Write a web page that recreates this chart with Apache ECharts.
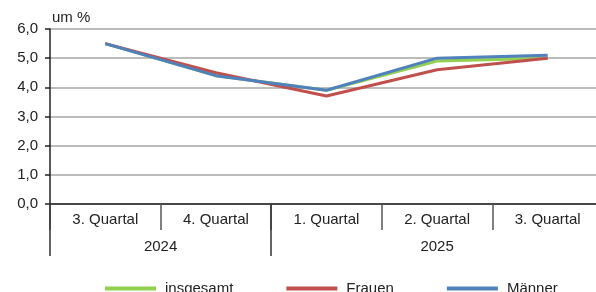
<!DOCTYPE html>
<html>
<head>
<meta charset="utf-8">
<script src="https://cdn.jsdelivr.net/npm/echarts@6/dist/echarts.min.js"></script>
<style>
  html, body { margin: 0; padding: 0; background: #fff; }
  #chart { width: 596px; height: 292px; }
</style>
</head>
<body>
<div id="chart"></div>
<script>
// Quartale und Jahre
const quarters = ['3. Quartal', '4. Quartal', '1. Quartal', '2. Quartal', '3. Quartal']
const years = ['2024', '2025']
const yearSpans = [2, 3]

// Werte in %
const insgesamt = [5.5, 4.4, 3.9, 4.9, 5.0]
const frauen = [5.5, 4.5, 3.7, 4.6, 5.0]
const maenner = [5.5, 4.4, 3.9, 5.0, 5.1]

const seriesNames = ['insgesamt', 'Frauen', 'Männer']
const seriesColors = ['#92d050', '#c0504d', '#4f81bd']

const textColor = '#222'
const font = 'Liberation Sans'
const fontSize = 15

// Grenzen und Mitten der Jahresgruppen
const yearBounds = [0]
yearSpans.forEach(s => yearBounds.push(yearBounds[yearBounds.length - 1] + s))
const yearMids = years.map((y, i) => (yearBounds[i] + yearBounds[i + 1]) / 2)

const chart = echarts.init(document.getElementById('chart'), null, { renderer: 'canvas' })

const lineSeries = (name, data, color) => ({
  name: name,
  type: 'line',
  xAxisIndex: 0,
  symbol: 'none',
  data: data,
  lineStyle: { color: color, width: 3 },
  itemStyle: { color: color }
})

const option = {
  animation: false,
  textStyle: { fontFamily: font },
  grid: {
    left: 50,
    top: 29,
    width: 553,
    height: 175,
    containLabel: false,
    outerBoundsMode: 'none'
  },
  legend: {
    left: 100,
    top: 276,
    itemWidth: 51,
    itemHeight: 4,
    itemGap: 53,
    textStyle: { fontSize: fontSize, color: textColor, fontFamily: font, padding: [0, 0, 0, 4] },
    data: seriesNames.map((n, i) => ({
      name: n,
      icon: 'rect',
      itemStyle: { color: seriesColors[i], borderWidth: 0, opacity: 1 }
    }))
  },
  xAxis: [
    {
      type: 'category',
      data: quarters,
      boundaryGap: true,
      axisLine: { lineStyle: { color: '#222', width: 1.5 } },
      axisTick: { show: true, interval: 0, length: 26, lineStyle: { color: '#555', width: 1.5 } },
      axisLabel: { interval: 0, margin: 8, fontSize: fontSize, color: textColor, fontFamily: font },
      splitLine: { show: false }
    },
    {
      type: 'value',
      position: 'bottom',
      min: 0,
      max: yearBounds[yearBounds.length - 1],
      axisLine: { show: false },
      axisTick: { show: true, customValues: yearBounds, length: 52, lineStyle: { color: '#333', width: 1.5 } },
      axisLabel: {
        customValues: yearMids,
        margin: 35,
        fontSize: fontSize,
        color: textColor,
        fontFamily: font,
        formatter: v => years[yearMids.indexOf(v)] || ''
      },
      splitLine: { show: false }
    }
  ],
  yAxis: {
    type: 'value',
    min: 0,
    max: 6,
    interval: 1,
    name: 'um %',
    nameLocation: 'end',
    nameGap: 11,
    nameTextStyle: { align: 'left', verticalAlign: 'middle', fontSize: fontSize, color: textColor, fontFamily: font, padding: [0, 0, 0, 2] },
    axisLine: { show: true, lineStyle: { color: '#222', width: 1.5 } },
    axisTick: { show: true, length: 5, lineStyle: { color: '#222', width: 1.5 } },
    axisLabel: {
      margin: 12,
      fontSize: fontSize,
      color: textColor,
      fontFamily: font,
      formatter: v => v.toFixed(1).replace('.', ',')
    },
    splitLine: { lineStyle: { color: '#a6a6a6', width: 1.5 } }
  },
  series: [
    lineSeries(seriesNames[0], insgesamt, seriesColors[0]),
    lineSeries(seriesNames[1], frauen, seriesColors[1]),
    lineSeries(seriesNames[2], maenner, seriesColors[2])
  ]
}

chart.setOption(option)
</script>
</body>
</html>
